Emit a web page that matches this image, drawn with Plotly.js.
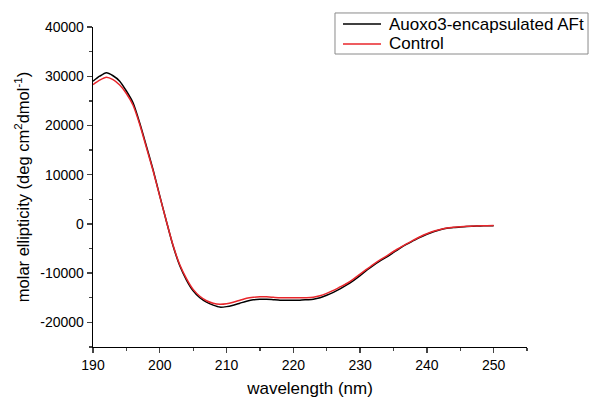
<!DOCTYPE html>
<html>
<head>
<meta charset="utf-8">
<script src="https://cdn.plot.ly/plotly-3.0.1.min.js"></script>
<style>html,body{margin:0;padding:0;background:#fff;}#chart{width:589px;height:401px;}</style>
</head>
<body>
<div id="chart"></div>
<script>
const wavelength = [190,191,192,193,194,195,196,197,198,199,200,201,202,203,204,205,206,207,208,209,210,211,212,213,214,215,216,217,218,219,220,221,222,223,224,225,226,227,228,229,230,231,232,233,234,235,236,237,238,239,240,241,242,243,244,245,246,247,248,249,250];
const auoxo3AFt = [29000,30000,30700,30100,29000,27000,24600,20500,15800,11000,5700,500,-4500,-8500,-11400,-13600,-15000,-15900,-16500,-16900,-16800,-16500,-16100,-15700,-15400,-15300,-15300,-15400,-15500,-15500,-15500,-15500,-15400,-15300,-15000,-14500,-13900,-13200,-12400,-11500,-10500,-9400,-8400,-7500,-6700,-5800,-4900,-4100,-3400,-2700,-2100,-1600,-1200,-900,-750,-600,-500,-450,-400,-380,-350];
const control = [28300,29200,29800,29300,28200,26500,24100,20200,15500,10800,5600,500,-4400,-8300,-11100,-13300,-14700,-15600,-16100,-16300,-16200,-15900,-15500,-15100,-14900,-14800,-14800,-14900,-15000,-15000,-15000,-15000,-15000,-14900,-14600,-14100,-13500,-12800,-12100,-11200,-10200,-9200,-8200,-7300,-6500,-5600,-4800,-4000,-3300,-2600,-2000,-1500,-1150,-850,-700,-580,-480,-430,-390,-370,-340];
const seriesNames = ['Auoxo3-encapsulated AFt', 'Control'];
const seriesColors = ['#000000', '#e8262b'];
const yTickValues = [-20000, -10000, 0, 10000, 20000, 30000, 40000];
const yTickLabels = ['-20000', '-10000', '0', '10000', '20000', '30000', '40000'];

const font = 'Liberation Sans, Arial, sans-serif';
const seriesData = [auoxo3AFt, control];
const traces = seriesData.map((vals, i) => ({
  x: wavelength, y: vals, name: seriesNames[i], mode: 'lines',
  line: {color: seriesColors[i], width: 1.5, shape: 'spline', smoothing: 0.6}
}));

// Legend drawn as box + sample lines + real text labels (paper coordinates)
const legendRows = [1.009, 0.947];
const shapes = [
  {type: 'rect', xref: 'paper', yref: 'paper', x0: 0.5576, x1: 1.1406, y0: 0.9156, y1: 1.0438,
   line: {color: '#8a8a8a', width: 1}, fillcolor: '#ffffff', layer: 'above'}
];
const annotations = [];
seriesNames.forEach((nm, i) => {
  shapes.push({type: 'line', xref: 'paper', yref: 'paper', x0: 0.576, x1: 0.6636, y0: legendRows[i], y1: legendRows[i],
    line: {color: seriesColors[i], width: 1.5}, layer: 'above'});
  annotations.push({text: nm, xref: 'paper', yref: 'paper', x: 0.6774, y: legendRows[i], xanchor: 'left', yanchor: 'middle',
    showarrow: false, font: {size: 17, family: font, color: '#000'}});
});

const layout = {
  width: 589, height: 401,
  margin: {l: 93, r: 62, t: 27, b: 54, autoexpand: false},
  paper_bgcolor: '#fff', plot_bgcolor: '#fff',
  font: {family: font, color: '#000', size: 14},
  showlegend: false,
  shapes: shapes,
  annotations: annotations,
  xaxis: {
    range: [190, 255], tick0: 190, dtick: 10, ticks: 'outside', ticklen: 5, tickwidth: 1.3,
    showline: true, linecolor: '#000', linewidth: 1.3, showgrid: false, zeroline: false, mirror: false,
    minor: {dtick: 5, tick0: 190, ticks: 'outside', ticklen: 3, tickwidth: 1.3, showgrid: false},
    tickfont: {size: 14}, title: {text: 'wavelength (nm)', font: {size: 17}, standoff: 10}
  },
  yaxis: {
    range: [-25000, 40000], tickmode: 'array', tickvals: yTickValues, ticktext: yTickLabels,
    ticks: 'outside', ticklen: 5, tickwidth: 1.3,
    showline: true, linecolor: '#000', linewidth: 1.3, showgrid: false, zeroline: false, mirror: false,
    minor: {dtick: 5000, tick0: 0, ticks: 'outside', ticklen: 3, tickwidth: 1.3, showgrid: false},
    tickfont: {size: 14},
    title: {text: 'molar ellipticity (deg cm<sup>2</sup>dmol<sup>-1</sup>)', font: {size: 16.5}, standoff: 6}
  }
};
Plotly.newPlot('chart', traces, layout, {displayModeBar: false, staticPlot: true});
</script>
</body>
</html>
